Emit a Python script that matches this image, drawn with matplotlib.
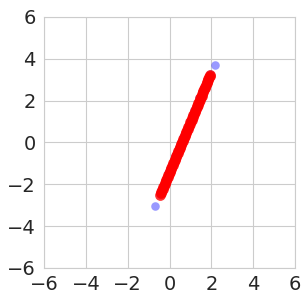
import numpy as np
import matplotlib
matplotlib.use("Agg")
import matplotlib.pyplot as plt
import seaborn as sns

# original samples (faint blue)
blue_x = [-0.69, -0.48, -0.40, -0.33, -0.22, -0.14, -0.06, 0.02, 0.11, 0.20,
          0.28, 0.37, 0.47, 0.56, 0.66, 0.75, 0.86, 0.97, 1.08, 1.19,
          1.31, 1.43, 1.56, 1.68, 1.80, 1.92, 2.18]
blue_y = [-3.04, -2.48, -2.29, -2.12, -1.86, -1.67, -1.47, -1.28, -1.07, -0.85,
          -0.66, -0.44, -0.20, 0.01, 0.25, 0.47, 0.73, 1.00, 1.26, 1.53,
          1.81, 2.10, 2.41, 2.70, 2.99, 3.28, 3.72]

# projected samples (red)
red_x = [-0.45, -0.42, -0.39, -0.36, -0.33, -0.30, -0.27, -0.24, -0.21, -0.18,
         -0.15, -0.12, -0.09, -0.06, -0.03, 0.00, 0.03, 0.06, 0.09, 0.12,
         0.15, 0.18, 0.21, 0.24, 0.27, 0.30, 0.33, 0.36, 0.39, 0.42,
         0.45, 0.48, 0.51, 0.54, 0.57, 0.60, 0.63, 0.66, 0.69, 0.72,
         0.75, 0.78, 0.81, 0.84, 0.87, 0.90, 0.93, 0.96, 0.99, 1.02,
         1.05, 1.08, 1.11, 1.14, 1.17, 1.20, 1.23, 1.26, 1.29, 1.32,
         1.35, 1.38, 1.41, 1.44, 1.47, 1.50, 1.53, 1.56, 1.59, 1.62,
         1.65, 1.68, 1.71, 1.74, 1.77, 1.80, 1.83, 1.86, 1.89, 1.92, 1.94]
red_y = [-2.51, -2.44, -2.37, -2.29, -2.22, -2.15, -2.08, -2.01, -1.93, -1.86,
         -1.79, -1.72, -1.65, -1.57, -1.50, -1.43, -1.36, -1.29, -1.21, -1.14,
         -1.07, -1.00, -0.93, -0.85, -0.78, -0.71, -0.64, -0.57, -0.49, -0.42,
         -0.35, -0.28, -0.21, -0.13, -0.06, 0.01, 0.08, 0.15, 0.23, 0.30,
         0.37, 0.44, 0.51, 0.59, 0.66, 0.73, 0.80, 0.87, 0.95, 1.02,
         1.09, 1.16, 1.23, 1.31, 1.38, 1.45, 1.52, 1.59, 1.67, 1.74,
         1.81, 1.88, 1.95, 2.03, 2.10, 2.17, 2.24, 2.31, 2.39, 2.46,
         2.53, 2.60, 2.67, 2.75, 2.82, 2.89, 2.96, 3.03, 3.11, 3.18, 3.23]

ticks = [-6, -4, -2, 0, 2, 4, 6]

sns.set_style("whitegrid")

fig = plt.figure(figsize=(3.08, 3.01), dpi=100)
ax = fig.add_axes([0.143, 0.110, 0.815, 0.834])

ax.scatter(blue_x, blue_y, color="blue", alpha=0.4, s=38, linewidths=0)
ax.scatter(red_x, red_y, color="red", alpha=0.8, s=60, linewidths=0)

ax.set_xlim(-6, 6)
ax.set_ylim(-6, 6)
ax.set_xticks(ticks)
ax.set_yticks(ticks)
ax.tick_params(labelsize=14, length=0)
ax.tick_params(axis="x", pad=5)
ax.tick_params(axis="y", pad=6)
ax.grid(True, color="#cccccc", linewidth=0.8)
for sp in ax.spines.values():
    sp.set_color("#cccccc")

fig.savefig("out.png", dpi=100)
